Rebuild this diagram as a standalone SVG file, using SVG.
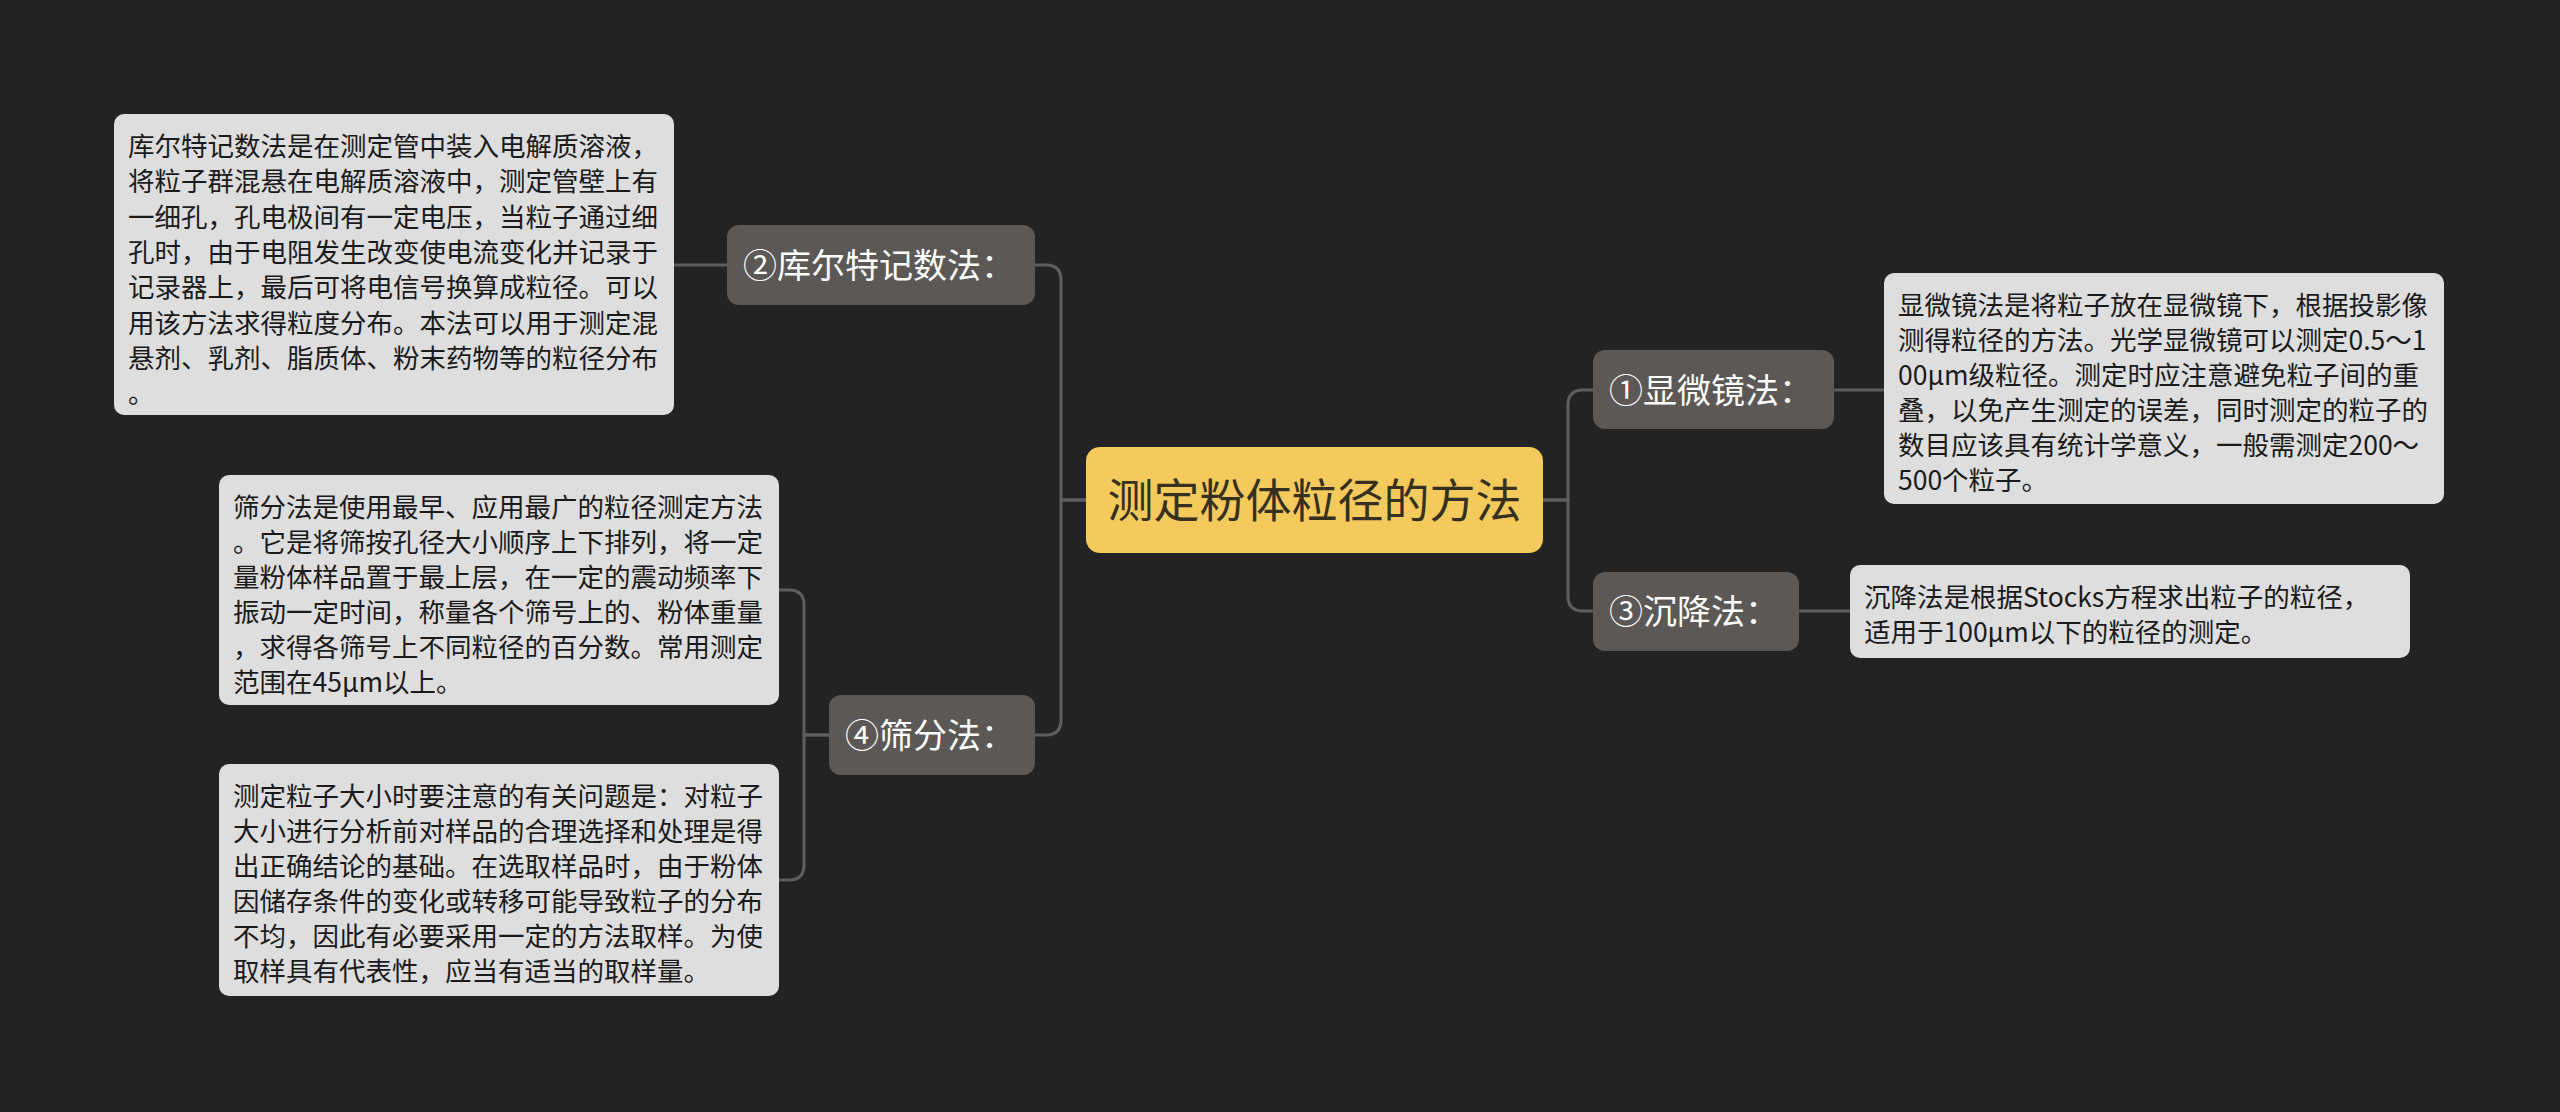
<svg xmlns="http://www.w3.org/2000/svg" width="2560" height="1112" viewBox="0 0 2560 1112">
<style>
.bg{fill:#232323}
.conn{fill:none;stroke:#5e5e5e;stroke-width:3}
.topic{fill:#5b5855}
.topic-t{font-family:"Noto Sans CJK SC","Noto Sans",sans-serif;font-size:34px;fill:#ffffff}
.note{fill:#dedede}
.note-t{font-family:"Noto Sans CJK SC","Noto Sans",sans-serif;font-size:26.5px;fill:#1a1a1a}
.root{fill:#f5ca5c}
.root-t{font-family:"Noto Sans CJK SC","Noto Sans",sans-serif;font-size:46px;fill:#35301f}
</style>
<rect class="bg" x="0" y="0" width="2560" height="1112"/>
<g id="connectors">
<path class="conn" d="M1086,500 H1061 V280 Q1061,265 1046,265 H1035"/>
<path class="conn" d="M1086,500 H1061 V720 Q1061,735 1046,735 H1035"/>
<path class="conn" d="M1543,500 H1568 V405 Q1568,390 1583,390 H1593"/>
<path class="conn" d="M1543,500 H1568 V596 Q1568,611 1583,611 H1593"/>
<path class="conn" d="M727,265 H674"/>
<path class="conn" d="M829,735 H804 V605 Q804,590 789,590 H779"/>
<path class="conn" d="M829,735 H804 V865 Q804,880 789,880 H779"/>
<path class="conn" d="M1834,390 H1884"/>
<path class="conn" d="M1799,611 H1850"/>
</g>
<g id="root">
<rect class="root" x="1086" y="447" width="457" height="106" rx="14"/>
<text class="root-t" x="1314.5" y="517" text-anchor="middle">测定粉体粒径的方法</text>
</g>
<g id="topic-coulter">
<rect class="topic" x="727" y="225" width="308" height="80" rx="12"/>
<text class="topic-t" x="743" y="278">②库尔特记数法：</text>
</g>
<g id="topic-sieve">
<rect class="topic" x="829" y="695" width="206" height="80" rx="12"/>
<text class="topic-t" x="845" y="748">④筛分法：</text>
</g>
<g id="topic-microscope">
<rect class="topic" x="1593" y="350" width="241" height="79" rx="12"/>
<text class="topic-t" x="1609" y="403">①显微镜法：</text>
</g>
<g id="topic-sediment">
<rect class="topic" x="1593" y="572" width="206" height="79" rx="12"/>
<text class="topic-t" x="1609" y="624">③沉降法：</text>
</g>
<g id="note-coulter">
<rect class="note" x="114" y="114" width="560" height="301" rx="10"/>
<text class="note-t">
<tspan x="128" y="156">库尔特记数法是在测定管中装入电解质溶液，</tspan>
<tspan x="128" y="191.3">将粒子群混悬在电解质溶液中，测定管壁上有</tspan>
<tspan x="128" y="226.6">一细孔，孔电极间有一定电压，当粒子通过细</tspan>
<tspan x="128" y="261.9">孔时，由于电阻发生改变使电流变化并记录于</tspan>
<tspan x="128" y="297.2">记录器上，最后可将电信号换算成粒径。可以</tspan>
<tspan x="128" y="332.5">用该方法求得粒度分布。本法可以用于测定混</tspan>
<tspan x="128" y="367.8">悬剂、乳剂、脂质体、粉末药物等的粒径分布</tspan>
<tspan x="128" y="403.1">。</tspan>
</text>
</g>
<g id="note-sieve">
<rect class="note" x="219" y="475" width="560" height="230" rx="10"/>
<text class="note-t">
<tspan x="233" y="517">筛分法是使用最早、应用最广的粒径测定方法</tspan>
<tspan x="233" y="552">。它是将筛按孔径大小顺序上下排列，将一定</tspan>
<tspan x="233" y="587">量粉体样品置于最上层，在一定的震动频率下</tspan>
<tspan x="233" y="622">振动一定时间，称量各个筛号上的、粉体重量</tspan>
<tspan x="233" y="657">，求得各筛号上不同粒径的百分数。常用测定</tspan>
<tspan x="233" y="692">范围在45μm以上。</tspan>
</text>
</g>
<g id="note-sample">
<rect class="note" x="219" y="764" width="560" height="232" rx="10"/>
<text class="note-t">
<tspan x="233" y="806">测定粒子大小时要注意的有关问题是：对粒子</tspan>
<tspan x="233" y="841">大小进行分析前对样品的合理选择和处理是得</tspan>
<tspan x="233" y="876">出正确结论的基础。在选取样品时，由于粉体</tspan>
<tspan x="233" y="911">因储存条件的变化或转移可能导致粒子的分布</tspan>
<tspan x="233" y="946">不均，因此有必要采用一定的方法取样。为使</tspan>
<tspan x="233" y="981">取样具有代表性，应当有适当的取样量。</tspan>
</text>
</g>
<g id="note-microscope">
<rect class="note" x="1884" y="273" width="560" height="231" rx="10"/>
<text class="note-t">
<tspan x="1898" y="315">显微镜法是将粒子放在显微镜下，根据投影像</tspan>
<tspan x="1898" y="350">测得粒径的方法。光学显微镜可以测定0.5～1</tspan>
<tspan x="1898" y="385">00μm级粒径。测定时应注意避免粒子间的重</tspan>
<tspan x="1898" y="420">叠，以免产生测定的误差，同时测定的粒子的</tspan>
<tspan x="1898" y="455">数目应该具有统计学意义，一般需测定200～</tspan>
<tspan x="1898" y="490">500个粒子。</tspan>
</text>
</g>
<g id="note-sediment">
<rect class="note" x="1850" y="565" width="560" height="93" rx="10"/>
<text class="note-t">
<tspan x="1864" y="607">沉降法是根据Stocks方程求出粒子的粒径，</tspan>
<tspan x="1864" y="642">适用于100μm以下的粒径的测定。</tspan>
</text>
</g>
</svg>
